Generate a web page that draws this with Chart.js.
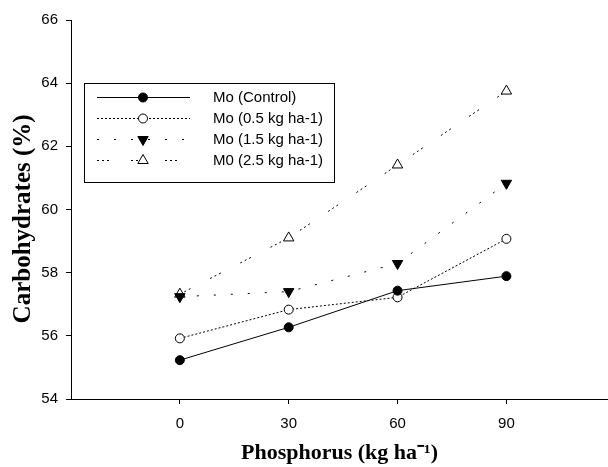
<!DOCTYPE html>
<html>
<head>
<meta charset="utf-8">
<title>Carbohydrates</title>
<script src="https://cdn.jsdelivr.net/npm/chart.js@4.4.0/dist/chart.umd.min.js"></script>
<style>
  html, body { margin: 0; padding: 0; background: #fff; }
  #wrap { width: 608px; height: 467px; }
</style>
</head>
<body>
<div id="wrap"><canvas id="chart" width="608" height="467"></canvas></div>
<script>
// phosphorus doses (kg ha-1)
var phosphorus = [0, 30, 60, 90];
var xTicks = [0, 30, 60, 90];
var yTicks = [54, 56, 58, 60, 62, 64, 66];

// carbohydrates (%) per Mo treatment
var moControl = [55.23, 56.27, 57.43, 57.89];
var mo05 = [55.92, 56.83, 57.22, 59.07];
var mo15 = [57.24, 57.40, 58.29, 60.83];
var mo25 = [57.32, 59.10, 61.41, 63.75];

var labels = ['Mo (Control)', 'Mo (0.5 kg ha-1)', 'Mo (1.5 kg ha-1)', 'M0 (2.5 kg ha-1)'];

function points(values) {
    return phosphorus.map(function (p, i) { return { x: p, y: values[i] }; });
}

function series(label, values, dash, style, rotation, fill, radius) {
    return {
        label: label,
        data: points(values),
        borderColor: '#000',
        borderWidth: 1,
        borderDash: dash,
        pointStyle: style,
        pointRotation: rotation,
        pointRadius: radius,
        pointBorderWidth: 1,
        pointBorderColor: '#000',
        pointBackgroundColor: fill,
        tension: 0
    };
}

// legend drawn by hand: long line samples with the marker in the middle
var legendBox = {
    id: 'legendBox',
    afterDraw: function (chart) {
        var ctx = chart.ctx;
        ctx.save();
        ctx.fillStyle = '#fff';
        ctx.fillRect(84.5, 83.5, 250, 99);
        ctx.strokeStyle = '#000';
        ctx.lineWidth = 1;
        ctx.strokeRect(84.5, 83.5, 250, 99);
        chart.data.datasets.forEach(function (ds, i) {
            var y = 97.5 + i * 21;
            ctx.strokeStyle = '#000';
            ctx.setLineDash(ds.borderDash || []);
            ctx.beginPath();
            ctx.moveTo(97, y);
            ctx.lineTo(190, y);
            ctx.stroke();
            ctx.setLineDash([]);
            ctx.fillStyle = ds.pointBackgroundColor;
            Chart.helpers.drawPoint(ctx, {
                pointStyle: ds.pointStyle,
                rotation: ds.pointRotation,
                radius: ds.pointRadius,
                borderWidth: 1
            }, 143, y);
            ctx.fillStyle = '#000';
            ctx.font = '15px Arial';
            ctx.textBaseline = 'middle';
            ctx.textAlign = 'left';
            ctx.fillText(ds.label, 213, y);
        });
        ctx.restore();
    }
};

new Chart(document.getElementById('chart'), {
    type: 'line',
    data: {
        datasets: [
            series(labels[0], moControl, [], 'circle', 0, '#000', 4.5),
            series(labels[1], mo05, [2, 2], 'circle', 0, '#fff', 4.5),
            series(labels[2], mo15, [2, 15], 'triangle', 180, '#000', 6),
            series(labels[3], mo25, [2, 3, 2, 3, 2, 22], 'triangle', 0, '#fff', 6)
        ]
    },
    options: {
        responsive: false,
        animation: false,
        devicePixelRatio: 1,
        layout: { autoPadding: false, padding: { top: 20, right: 0, left: 0, bottom: 0 } },
        plugins: {
            legend: { display: false },
            tooltip: { enabled: false }
        },
        scales: {
            x: {
                type: 'linear',
                min: -30,
                max: 118,
                afterBuildTicks: function (scale) {
                    scale.ticks = xTicks.map(function (v) { return { value: v }; });
                },
                afterFit: function (scale) { scale.height = 68; },
                border: { display: true, color: '#000', width: 1 },
                grid: { drawOnChartArea: false, drawTicks: true, tickLength: 5, color: '#000' },
                ticks: { color: '#000', padding: 11, font: { family: 'Arial', size: 15 }, maxRotation: 0 },
                title: {
                    display: true,
                    text: 'Phosphorus (kg ha\u207B\u00B9)',
                    color: '#000',
                    padding: { top: 0, bottom: 0 },
                    font: { family: 'Times New Roman', size: 22, weight: 'bold' }
                }
            },
            y: {
                min: 54,
                max: 66,
                afterBuildTicks: function (scale) {
                    scale.ticks = yTicks.map(function (v) { return { value: v }; });
                },
                afterFit: function (scale) { scale.width = 71; },
                border: { display: true, color: '#000', width: 1 },
                grid: { drawOnChartArea: false, drawTicks: true, tickLength: 5, color: '#000' },
                ticks: { color: '#000', padding: 8, font: { family: 'Arial', size: 15 } },
                title: {
                    display: true,
                    // trailing spaces push the rotated title a little lower, as in the original
                    text: 'Carbohydrates (%)   ',
                    color: '#000',
                    padding: { top: 9, bottom: 0 },
                    font: { family: 'Times New Roman', size: 25, weight: 'bold' }
                }
            }
        }
    },
    plugins: [legendBox]
});
</script>
</body>
</html>
